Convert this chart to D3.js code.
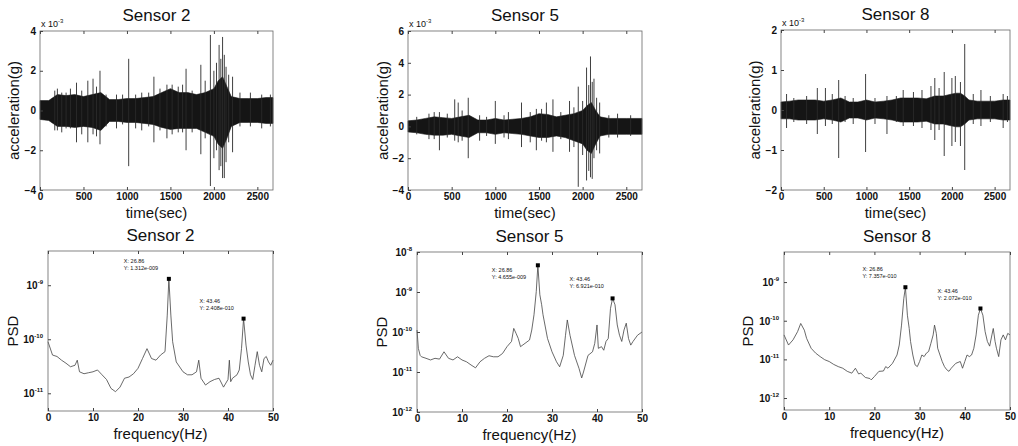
<!DOCTYPE html>
<html>
<head>
<meta charset="utf-8">
<script src="https://cdn.jsdelivr.net/npm/d3@7"></script>
<style>
  body { margin: 0; background: #fff; }
  text { font-family: "Liberation Sans", Arial, sans-serif; fill: #111; }
</style>
</head>
<body>
<svg id="chart" width="1018" height="446"></svg>
<script>
// ---- data (acceleration in units of 1e-3 g, time in sec) ----
const timeSteps = [0, 100, 200, 300, 400, 500, 600, 700, 800, 900, 1000, 1100, 1200, 1300, 1400,
  1500, 1600, 1700, 1800, 1900, 2000, 2050, 2100, 2150, 2200, 2300, 2400, 2500, 2600, 2680];

const acc2Upper = [0.5, 0.5, 0.8, 0.75, 0.8, 0.7, 0.8, 0.9, 0.55, 0.55, 0.6, 0.6, 0.65, 0.7, 0.9,
  1.1, 0.9, 0.9, 0.8, 0.9, 1.1, 1.5, 1.7, 1.2, 0.7, 0.6, 0.6, 0.6, 0.65, 0.65];
const acc2Lower = [-0.45, -0.5, -0.8, -0.8, -0.85, -0.8, -0.85, -1.0, -0.55, -0.55, -0.6, -0.6, -0.65, -0.7, -0.85,
  -0.95, -0.9, -0.9, -0.9, -1.1, -1.3, -1.7, -1.9, -1.4, -0.8, -0.6, -0.6, -0.6, -0.65, -0.65];
const acc2Spikes = [[170, 1.0, -1.0], [200, 1.1, -1.0], [250, 0.9, -1.1], [300, 0.9, -0.9], [350, 1.1, -0.9],
  [420, 1.4, -1.6], [480, 1.0, -1.2], [550, 1.5, -1.6], [610, 1.6, -1.2], [650, 1.2, -1.3],
  [690, 2.0, -1.7], [760, 0.8, -0.8], [880, 0.8, -0.9], [950, 0.8, -0.7], [1020, 2.6, -2.8],
  [1100, 0.8, -0.9], [1170, 0.9, -1.0], [1250, 0.9, -0.8], [1310, 1.7, -1.6], [1380, 1.1, -1.0],
  [1460, 1.3, -1.4], [1520, 1.3, -1.2], [1590, 1.2, -1.1], [1640, 1.3, -1.1], [1680, 2.1, -2.0],
  [1750, 1.0, -1.1], [1850, 2.3, -2.2], [1900, 1.5, -1.4], [1960, 3.8, -3.8], [2000, 2.0, -2.4],
  [2030, 2.4, -2.0], [2060, 3.3, -3.0], [2080, 2.6, -2.8], [2100, 3.7, -3.4], [2120, 2.8, -3.4],
  [2140, 2.2, -2.6], [2170, 1.8, -1.6], [2215, 1.7, -2.1], [2300, 0.9, -0.8],
  [2420, 0.9, -0.8], [2550, 0.8, -0.9], [2650, 0.8, -0.8]];

const acc5Upper = [0.35, 0.4, 0.5, 0.6, 0.55, 0.5, 0.6, 0.7, 0.4, 0.4, 0.5, 0.4, 0.45, 0.5, 0.6,
  0.8, 0.75, 0.6, 0.7, 0.8, 1.0, 1.3, 1.5, 1.0, 0.6, 0.5, 0.5, 0.5, 0.5, 0.5];
const acc5Lower = [-0.35, -0.4, -0.5, -0.55, -0.55, -0.5, -0.6, -0.7, -0.4, -0.4, -0.5, -0.4, -0.45, -0.5, -0.6,
  -0.7, -0.7, -0.6, -0.7, -0.9, -1.1, -1.5, -1.7, -1.1, -0.6, -0.5, -0.5, -0.5, -0.5, -0.5];
const acc5Spikes = [[100, 0.6, -0.5], [240, 0.8, -0.8], [300, 0.9, -0.8], [360, 0.9, -1.5], [450, 0.8, -0.7],
  [535, 1.7, -0.9], [575, 1.5, -1.0], [620, 1.0, -0.9], [690, 1.8, -2.0], [820, 0.7, -0.9],
  [900, 0.6, -0.6], [1000, 1.6, -1.1], [1100, 0.7, -0.7], [1150, 0.9, -0.8], [1300, 1.5, -1.3],
  [1400, 0.9, -1.0], [1470, 1.1, -1.5], [1530, 1.1, -0.9], [1585, 1.5, -1.0], [1660, 1.7, -1.6],
  [1750, 0.9, -0.8], [1850, 1.6, -1.6], [1900, 1.2, -1.3], [1950, 2.5, -3.8], [2000, 1.6, -1.8],
  [2045, 3.7, -3.4], [2070, 2.6, -2.8], [2090, 4.4, -3.2], [2110, 2.8, -3.3], [2130, 3.0, -2.0],
  [2160, 1.8, -1.5], [2195, 1.5, -1.7], [2300, 0.7, -0.7], [2400, 0.8, -0.7], [2550, 0.7, -0.6]];

const acc8Upper = [0.2, 0.22, 0.25, 0.25, 0.25, 0.22, 0.25, 0.3, 0.2, 0.2, 0.25, 0.2, 0.22, 0.25, 0.3,
  0.3, 0.3, 0.28, 0.35, 0.35, 0.4, 0.42, 0.42, 0.35, 0.25, 0.22, 0.22, 0.22, 0.25, 0.25];
const acc8Lower = [-0.22, -0.22, -0.25, -0.25, -0.25, -0.22, -0.25, -0.3, -0.2, -0.2, -0.25, -0.2, -0.22, -0.25, -0.3,
  -0.3, -0.3, -0.28, -0.35, -0.35, -0.4, -0.42, -0.42, -0.35, -0.25, -0.22, -0.22, -0.22, -0.25, -0.25];
const acc8Spikes = [[65, 0.4, -0.45], [150, 0.3, -0.3], [300, 0.35, -0.35], [425, 0.55, -0.6], [520, 0.55, -0.4],
  [600, 0.4, -0.35], [675, 0.75, -1.2], [750, 0.35, -0.3], [845, 0.3, -0.35], [990, 0.9, -1.05],
  [1100, 0.3, -0.35], [1240, 0.35, -0.6], [1350, 0.35, -0.3], [1430, 0.5, -0.4], [1550, 0.45, -0.4],
  [1650, 0.5, -0.45], [1755, 0.6, -0.5], [1800, 0.8, -0.75], [1850, 0.55, -0.5], [1910, 0.95, -1.15],
  [2000, 0.8, -0.9], [2040, 0.85, -0.8], [2100, 0.7, -0.9], [2150, 1.65, -1.5], [2250, 0.4, -0.35],
  [2340, 0.5, -0.4], [2450, 0.35, -0.3], [2600, 0.4, -0.45], [2650, 0.35, -0.3]];

const timeTicks = [0, 500, 1000, 1500, 2000, 2500];
const acc2Ticks = [-4, -2, 0, 2, 4];
const acc5Ticks = [-4, -2, 0, 2, 4, 6];
const acc8Ticks = [-2, -1, 0, 1, 2];

// ---- PSD data [frequency Hz, PSD] ----
const psd2 = [[0, 9.0e-11], [1, 5.1e-11], [2, 4.8e-11], [3, 4.1e-11], [4, 3.6e-11], [5, 3.1e-11], [6, 3.3e-11],
  [6.5, 4.1e-11], [7, 2.5e-11], [8, 2.3e-11], [9, 2.4e-11], [10, 2.5e-11], [11, 2.7e-11], [12, 2.2e-11],
  [13, 1.8e-11], [14, 1.23e-11], [15, 1.07e-11], [16, 1.3e-11], [17, 1.9e-11], [18, 2.0e-11], [19, 2.3e-11],
  [20, 2.9e-11], [21, 4.4e-11], [22, 6.7e-11], [23, 4.4e-11], [24, 4.1e-11], [25, 5.1e-11], [26, 5.9e-11],
  [26.5, 2.8e-10], [26.86, 1.312e-9], [27.3, 2.8e-10], [27.7, 9.0e-11], [28.5, 3.8e-11], [30, 2.5e-11],
  [31, 2.2e-11], [32, 2.2e-11], [33, 2.5e-11], [33.5, 4.1e-11], [34, 1.9e-11], [35, 1.42e-11], [36, 1.64e-11],
  [37, 1.8e-11], [38, 1.9e-11], [39, 1.3e-11], [40, 1.8e-11], [40.3, 4.1e-11], [40.6, 1.64e-11], [41, 1.9e-11],
  [42, 2.2e-11], [42.5, 2.7e-11], [43, 6.7e-11], [43.46, 2.408e-10], [44, 7.8e-11], [44.5, 3.8e-11],
  [45, 2.2e-11], [45.5, 1.8e-11], [46, 3.3e-11], [46.5, 5.9e-11], [47, 3.3e-11], [47.5, 2.5e-11],
  [48, 4.4e-11], [48.5, 4.8e-11], [49, 3.8e-11], [49.5, 3.3e-11], [50, 4.1e-11]];

const psd5 = [[0, 1.12e-10], [0.3, 3.9e-11], [0.7, 2.6e-11], [1, 2.4e-11], [2, 2.2e-11], [3, 2.0e-11], [4, 2.2e-11],
  [5, 2.1e-11], [6, 3.2e-11], [7, 2.2e-11], [8, 2.0e-11], [9, 2.4e-11], [10, 2.0e-11], [11, 1.8e-11],
  [12, 1.5e-11], [13, 1.27e-11], [14, 1.8e-11], [15, 2.2e-11], [16, 2.55e-11], [17, 2.4e-11], [18, 2.4e-11],
  [19, 2.9e-11], [20, 4.3e-11], [21, 5.8e-11], [21.5, 1.23e-10], [22, 9.3e-11], [22.5, 6.9e-11], [23, 4.3e-11],
  [24, 5.2e-11], [25, 6.3e-11], [25.5, 1.12e-10], [26, 2.7e-10], [26.5, 1.02e-9], [26.86, 4.655e-9],
  [27.3, 8.5e-10], [27.7, 4.8e-10], [28, 2.7e-10], [29, 6.9e-11], [30, 3.2e-11], [31, 1.8e-11],
  [31.7, 1.35e-11], [32.5, 2.6e-11], [33, 8.3e-11], [33.4, 2.0e-10], [34, 8.3e-11], [35, 2.6e-11],
  [36, 1.23e-11], [36.6, 7.1e-12], [37, 1.0e-11], [38, 2.6e-11], [39, 3.2e-11], [39.5, 5.2e-11],
  [40, 1.5e-10], [40.3, 3.9e-11], [41, 4.3e-11], [41.5, 3.5e-11], [42, 5.8e-11], [42.5, 6.9e-11],
  [43, 3.9e-10], [43.46, 6.921e-10], [44, 4.8e-10], [44.5, 1.5e-10], [45, 8.3e-11], [45.5, 5.8e-11],
  [46, 1.12e-10], [46.5, 1.66e-10], [47, 6.9e-11], [47.5, 4.7e-11], [48, 5.8e-11], [49, 8.3e-11], [50, 1.0e-10]];

const psd8 = [[0, 4.3e-11], [1, 2.35e-11], [2, 3.2e-11], [3, 5.2e-11], [3.7, 8.5e-11], [4.5, 5.7e-11],
  [5, 3.5e-11], [6, 1.94e-11], [7, 1.45e-11], [8, 1.18e-11], [9, 9.8e-12], [10, 8.8e-12], [11, 7.4e-12],
  [12, 6.5e-12], [13, 5.9e-12], [14, 4.9e-12], [15, 4.4e-12], [15.8, 5.9e-12], [16.5, 4.2e-12], [17, 4.4e-12],
  [18, 3.4e-12], [19, 3.2e-12], [19.3, 2.95e-12], [20, 3.6e-12], [21, 4.9e-12], [22, 5.0e-12], [22.5, 6.5e-12],
  [23, 5.9e-12], [24, 7.9e-12], [25, 1.3e-11], [25.5, 2.35e-11], [26, 7.7e-11], [26.5, 3.7e-10],
  [26.86, 7.357e-10], [27.3, 1.39e-10], [27.7, 6.3e-11], [28, 2.9e-11], [28.5, 1.3e-11], [29, 7.2e-12],
  [29.5, 6.5e-12], [30, 8.8e-12], [30.5, 1.3e-11], [31, 1.18e-11], [31.5, 1.45e-11], [32, 1.6e-11],
  [32.5, 2.6e-11], [33, 4.3e-11], [33.3, 7.7e-11], [33.7, 4.7e-11], [34, 1.94e-11], [35, 8.8e-12],
  [35.5, 6.5e-12], [36, 5.4e-12], [36.5, 4.9e-12], [37, 5.9e-12], [38, 7.9e-12], [39, 8.8e-12],
  [39.5, 5.9e-12], [40, 8.8e-12], [40.5, 1.3e-11], [41, 1.18e-11], [41.5, 1.3e-11], [42, 1.94e-11],
  [42.5, 4.3e-11], [43, 1.39e-10], [43.46, 2.072e-10], [44, 1.39e-10], [44.5, 5.2e-11], [45, 2.9e-11],
  [45.5, 2.2e-11], [46, 4.3e-11], [46.3, 6.3e-11], [46.7, 2.9e-11], [47, 1.94e-11], [47.5, 1.18e-11],
  [48, 3.2e-11], [48.5, 4.3e-11], [49, 3.2e-11], [49.5, 4.7e-11], [50, 4.3e-11]];

const freqTicks = [0, 10, 20, 30, 40, 50];
// data tips [f, PSD]
const tips2 = [[26.86, 1.312e-9], [43.46, 2.408e-10]];
const tips5 = [[26.86, 4.655e-9], [43.46, 6.921e-10]];
const tips8 = [[26.86, 7.357e-10], [43.46, 2.072e-10]];

// ---- layout ----
const svg = d3.select("#chart");
const font = '"Liberation Sans", Arial, sans-serif';

const timePanels = [
  { title: "Sensor 2", x0: 40, x1: 273, y0: 31, y1: 190, ylab: 14, yDom: [-4, 4], yTicks: acc2Ticks, up: acc2Upper, lo: acc2Lower, spikes: acc2Spikes },
  { title: "Sensor 5", x0: 408, x1: 642, y0: 31, y1: 190, ylab: 383, yDom: [-4, 6], yTicks: acc5Ticks, up: acc5Upper, lo: acc5Lower, spikes: acc5Spikes },
  { title: "Sensor 8", x0: 781, x1: 1010, y0: 30, y1: 190, ylab: 755, yDom: [-2, 2], yTicks: acc8Ticks, up: acc8Upper, lo: acc8Lower, spikes: acc8Spikes }
];

const psdPanels = [
  { title: "Sensor 2", x0: 48, x1: 273, y0: 251, y1: 411, ylab: 13, yDom: [4.7e-12, 4.3e-9], decades: [-11, -10, -9], data: psd2, tips: tips2,
    tipOff: [[-45, -16], [-44, -16]] },
  { title: "Sensor 5", x0: 417, x1: 642, y0: 252, y1: 412, ylab: 382, yDom: [1e-12, 1e-8], decades: [-12, -11, -10, -9, -8], data: psd5, tips: tips5,
    tipOff: [[-46, 7], [-43, -17]] },
  { title: "Sensor 8", x0: 784, x1: 1010, y0: 252, y1: 410, ylab: 748, yDom: [4.9e-13, 6.0e-9], decades: [-12, -11, -10, -9], data: psd8, tips: tips8,
    tipOff: [[-43, -16], [-43, -15]] }
];

function frame(p) {
  svg.append("rect")
    .attr("x", p.x0).attr("y", p.y0)
    .attr("width", p.x1 - p.x0).attr("height", p.y1 - p.y0)
    .attr("fill", "none").attr("stroke", "#666").attr("stroke-width", 0.8);
}

function ticksX(x, p, vals) {
  const g = svg.append("g").attr("transform", `translate(0,${p.y1})`)
    .call(d3.axisBottom(x).tickValues(vals).tickFormat(d3.format("d"))
      .tickSizeInner(-3).tickSizeOuter(0).tickPadding(3));
  g.select(".domain").remove();
  g.selectAll("line").attr("stroke", "#444");
  g.selectAll("text").style("font-family", font).style("font-size", "10px").style("font-weight", "bold");
  svg.append("g").attr("transform", `translate(0,${p.y0})`)
    .call(d3.axisTop(x).tickValues(vals).tickSizeInner(-3).tickSizeOuter(0).tickFormat(""))
    .call(s => s.select(".domain").remove())
    .selectAll("line").attr("stroke", "#444");
}

function titles(p, xlab, ylab) {
  const cx = (p.x0 + p.x1) / 2;
  svg.append("text").attr("x", cx).attr("y", p.y0 - 10)
    .attr("text-anchor", "middle").style("font-size", "17px").text(p.title);
  svg.append("text").attr("x", cx).attr("y", p.y1 + 28)
    .attr("text-anchor", "middle").style("font-size", "15px").text(xlab);
  svg.append("text")
    .attr("transform", `translate(${p.ylab},${(p.y0 + p.y1) / 2}) rotate(-90)`)
    .attr("text-anchor", "middle").attr("dy", "0.35em").style("font-size", "15px").text(ylab);
}

// ---- acceleration time histories ----
timePanels.forEach(p => {
  const x = d3.scaleLinear().domain([0, 2680]).range([p.x0, p.x1]);
  const y = d3.scaleLinear().domain(p.yDom).range([p.y1, p.y0]);

  const band = timeSteps.map((t, i) => ({ t, up: p.up[i], lo: p.lo[i] }));
  svg.append("path")
    .datum(band)
    .attr("fill", "#151515")
    .attr("stroke", "#151515")
    .attr("stroke-width", 0.6)
    .attr("d", d3.area().x(d => x(d.t)).y0(d => y(d.lo)).y1(d => y(d.up)));

  svg.append("g").selectAll("line")
    .data(p.spikes)
    .join("line")
    .attr("x1", d => x(d[0])).attr("x2", d => x(d[0]))
    .attr("y1", d => y(d[1])).attr("y2", d => y(d[2]))
    .attr("stroke", "#2a2a2a").attr("stroke-width", 0.9);

  frame(p);
  ticksX(x, p, timeTicks);

  const gy = svg.append("g").attr("transform", `translate(${p.x0},0)`)
    .call(d3.axisLeft(y).tickValues(p.yTicks).tickFormat(d3.format("d"))
      .tickSizeInner(-3).tickSizeOuter(0).tickPadding(4));
  gy.select(".domain").remove();
  gy.selectAll("line").attr("stroke", "#444");
  gy.selectAll("text").style("font-family", font).style("font-size", "10px").style("font-weight", "bold");

  const ex = svg.append("text").attr("x", p.x0 + 1).attr("y", p.y0 - 4).style("font-size", "9px");
  ex.append("tspan").text("x 10");
  ex.append("tspan").attr("dy", -4).style("font-size", "6px").text("-3");

  titles(p, "time(sec)", "acceleration(g)");
});

// ---- power spectral densities ----
psdPanels.forEach(p => {
  const x = d3.scaleLinear().domain([0, 50]).range([p.x0, p.x1]);
  const y = d3.scaleLog().domain(p.yDom).range([p.y1, p.y0]);

  svg.append("path")
    .datum(p.data)
    .attr("fill", "none")
    .attr("stroke", "#444")
    .attr("stroke-width", 0.8)
    .attr("d", d3.line().x(d => x(d[0])).y(d => y(d[1])));

  frame(p);
  ticksX(x, p, freqTicks);

  const decVals = p.decades.map(e => Math.pow(10, e));
  const gy = svg.append("g").attr("transform", `translate(${p.x0},0)`)
    .call(d3.axisLeft(y).tickValues(decVals).tickSizeInner(-3).tickSizeOuter(0).tickFormat(""));
  gy.select(".domain").remove();
  gy.selectAll("line").attr("stroke", "#444");

  p.decades.forEach(e => {
    const t = svg.append("text").attr("x", p.x0 - 5).attr("y", y(Math.pow(10, e)) + 4)
      .attr("text-anchor", "end").style("font-size", "10px").style("font-weight", "bold");
    t.append("tspan").text("10");
    t.append("tspan").attr("dy", -5).style("font-size", "6px").text(String(e));
  });

  // data tips
  p.tips.forEach((d, i) => {
    const mx = x(d[0]), my = y(d[1]);
    svg.append("rect").attr("x", mx - 2).attr("y", my - 2).attr("width", 4).attr("height", 4).attr("fill", "#000");
    const [ox, oy] = p.tipOff[i];
    const ys = d[1].toExponential(3).replace(/e-(\d+)/, (m, n) => "e-" + n.padStart(3, "0"));
    svg.append("text").attr("x", mx + ox).attr("y", my + oy).style("font-size", "5.5px").text("X: " + d[0].toFixed(2));
    svg.append("text").attr("x", mx + ox).attr("y", my + oy + 7).style("font-size", "5.5px").text("Y: " + ys);
  });

  titles(p, "frequency(Hz)", "PSD");
});
</script>
</body>
</html>
